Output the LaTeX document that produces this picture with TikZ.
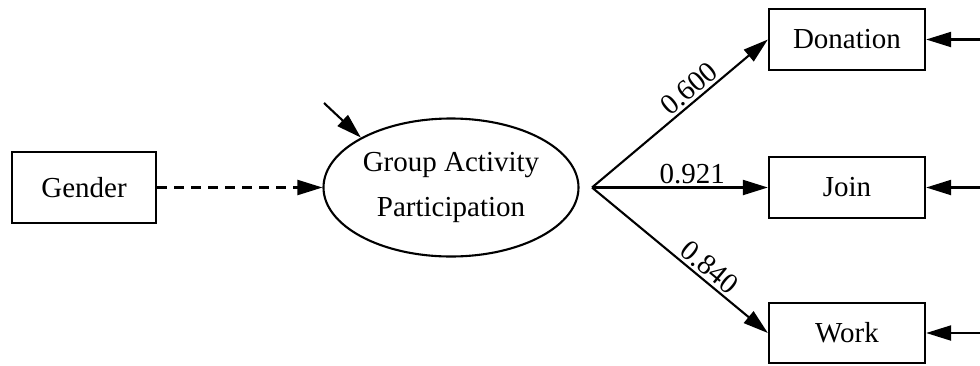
\documentclass[tikz,border=0pt]{standalone}
\usepackage{fontspec}
\setmainfont{Liberation Serif}
\usetikzlibrary{arrows.meta,shapes.geometric}
\begin{document}
\begin{tikzpicture}[x=1pt,y=-1pt,
  every node/.style={font=\fontsize{29}{45}\selectfont},
  obs/.style={draw,line width=2.3pt,rectangle,inner sep=0pt},
  lat/.style={draw,line width=2.1pt,ellipse,inner sep=0pt,align=center,minimum width=255pt,minimum height=138pt},
  conn/.style={line width=2.1pt,-{Triangle[length=25pt,width=15pt]}},
  lbl/.style={inner sep=2.5pt}
]
\useasboundingbox (0,0) rectangle (980,365);
\node[obs,minimum width=144pt,minimum height=71pt] (gender) at (84,187.5) {Gender};
\node[lat] (gap) at (451,187.5) {Group Activity\\Participation};
\node[obs,minimum width=156pt,minimum height=61pt] (don) at (847,39.5) {Donation};
\node[obs,minimum width=156pt,minimum height=61pt] (join) at (847,187.5) {Join};
\node[obs,minimum width=156pt,minimum height=60pt] (work) at (847,333) {Work};
\coordinate (v) at (592,187.5);
\coordinate (dist) at (324,103);
\coordinate (rd) at (980,39.5);
\coordinate (rj) at (980,187.5);
\coordinate (rw) at (980,333);
\draw[conn,dash pattern=on 10pt off 7pt] (gender.east) -- (gap.west);
\draw[conn] (dist) -- (gap.151);
\draw[conn] (v) -- node[lbl,pos=0.6,above,sloped] {0.600} (don.west);
\draw[conn] (v) -- node[lbl,pos=0.57,above] {0.921} (join.west);
\draw[conn] (v) -- node[lbl,pos=0.62,above,sloped] {0.840} (work.west);
\draw[conn] (rd) -- (don.east);
\draw[conn] (rj) -- (join.east);
\draw[conn] (rw) -- (work.east);
\end{tikzpicture}
\end{document}
